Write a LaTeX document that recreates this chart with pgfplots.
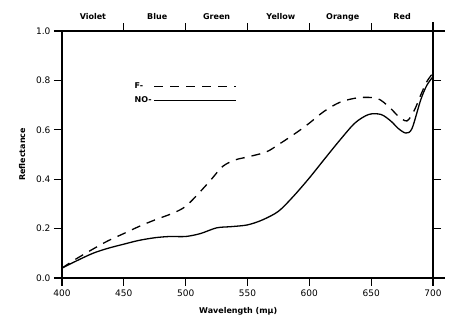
\documentclass[border=0pt]{standalone}
\usepackage{fontspec}
\setmainfont{DejaVu Sans}
\usepackage{pgfplots}
\pgfplotsset{compat=1.18}
\begin{document}
\begin{tikzpicture}
\begin{axis}[
  name=ax,
  at={(0,0)}, anchor=south west,
  width=371pt, height=247pt, scale only axis,
  xmin=400, xmax=700, ymin=0, ymax=1,
  axis line style={line width=1.2pt},
  xtick={400,450,500,550,600,650,700},
  ytick={0,0.2,0.4,0.6,0.8,1.0},
  xtick pos=left, ytick pos=both, yticklabel pos=left,
  xtick align=outside, ytick align=outside,
  major tick length=8pt,
  xtick style={draw=black, line width=1.3pt},
  ytick style={draw=black, line width=1.3pt},
  yticklabel style={/pgf/number format/fixed,/pgf/number format/fixed zerofill,/pgf/number format/precision=1},
  /pgf/number format/assume math mode=true,
  ticklabel style={font=\fontsize{9}{10}\selectfont},
  xlabel={Wavelength (mμ)}, ylabel={Reflectance},
  label style={font=\fontsize{8}{10}\selectfont\bfseries},
  xlabel style={at={(axis description cs:0.475,0)}, anchor=center, yshift=-33pt},
  ylabel style={yshift=4pt},
  clip=false,
  legend style={at={(rel axis cs:0.19,0.80)}, anchor=north west, draw=none, fill=none,
    font=\fontsize{8}{10}\selectfont\bfseries, inner sep=0pt, row sep=3pt},
  legend cell align=left, legend plot pos=right,
  legend image code/.code={\draw[#1] (0pt,0pt) -- (82pt,0pt);},
]
\addplot[line width=1.3pt, dash pattern=on 9pt off 7pt, smooth] coordinates {
(400,0.04)(410,0.073)(425,0.117)(437,0.15)(450,0.18)(462,0.208)(475,0.235)(490,0.263)(500,0.29)(510,0.34)(520,0.395)(530,0.452)(540,0.478)(550,0.49)(565,0.51)(575,0.54)(590,0.59)(600,0.627)(612,0.675)(625,0.712)(640,0.73)(655,0.727)(665,0.69)(672,0.655)(679,0.636)(685,0.68)(690,0.74)(695,0.795)(700,0.83)};
\addlegendentry{F-}
\addplot[line width=1.3pt, smooth] coordinates {
(400,0.04)(412,0.07)(425,0.10)(437,0.12)(450,0.137)(462,0.152)(475,0.163)(487,0.168)(500,0.168)(512,0.18)(525,0.203)(537,0.208)(550,0.215)(562,0.235)(575,0.27)(587,0.33)(600,0.405)(612,0.48)(625,0.56)(637,0.628)(648,0.662)(658,0.662)(666,0.635)(672,0.605)(678,0.587)(683,0.605)(690,0.72)(695,0.78)(700,0.815)};
\addlegendentry{NO-}
\end{axis}
% outward tick marks drawn explicitly as well (left, right, bottom, top)
\foreach \y in {0,49.4,98.8,148.2,197.6,247} {
  \draw[line width=1.3pt] (0pt,\y pt) -- (-8pt,\y pt);
  \draw[line width=1.3pt] (371pt,\y pt) -- (379pt,\y pt);
}
\foreach \x in {0,61.83,123.67,185.5,247.33,309.17,371} {
  \draw[line width=1.3pt] (\x pt,0pt) -- (\x pt,-8pt);
}
\foreach \x in {61.83,123.67,185.5,247.33,309.17} {
  \draw[line width=1.3pt] (\x pt,247pt) -- (\x pt,255pt);
}
% axis line overshoots
\draw[line width=1.2pt] (0pt,0pt) -- (0pt,-6pt);
\draw[line width=1.2pt] (371pt,247pt) -- (371pt,256pt);
\draw[line width=1.2pt] (371pt,0pt) -- (383pt,0pt);
\draw[line width=1.2pt] (371pt,247pt) -- (383pt,247pt);
\begin{scope}[every node/.style={font=\fontsize{8}{10}\selectfont\bfseries}]
\node at (30.9pt,261pt) {Violet};
\node at (95.2pt,261pt) {Blue};
\node at (154.6pt,261pt) {Green};
\node at (218.9pt,261pt) {Yellow};
\node at (280.7pt,261pt) {Orange};
\node at (340.1pt,261pt) {Red};
\end{scope}
\pgfresetboundingbox
\path[use as bounding box] (-62pt,-48pt) rectangle (404pt,278pt);
\end{tikzpicture}
\end{document}
